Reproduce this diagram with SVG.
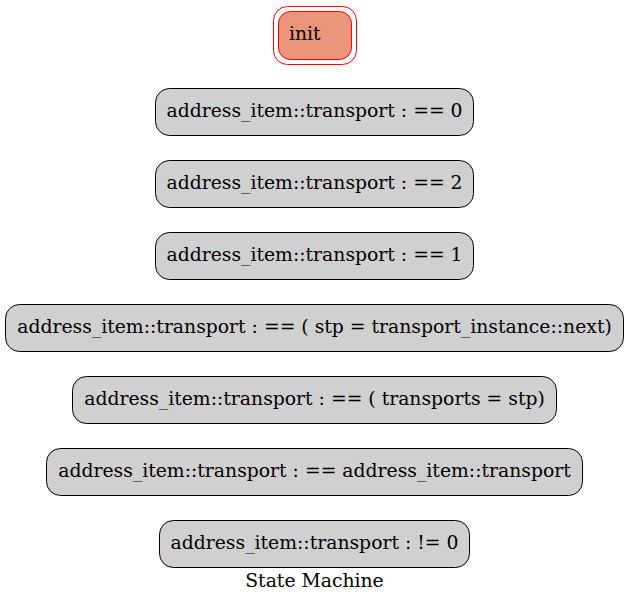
<svg xmlns="http://www.w3.org/2000/svg" width="629" height="604" viewBox="0 0 629 604">
<style>
text{font-family:'DejaVu Serif',serif;font-size:18.8px;fill:#000;text-anchor:middle}
.s{fill:#d0d0d0;stroke:#000;stroke-width:1}
.i{fill:#eb967a;stroke:#ff0000;stroke-width:1}
.o{fill:none;stroke:#ff0000;stroke-width:1}
</style>
<rect width="629" height="604" fill="#fff"/>
<g id="init">
<rect class="o" x="273.5" y="6.5" width="83" height="58" rx="14"/>
<rect class="i" x="278.5" y="11.5" width="73" height="48" rx="12"/>
<text x="289" y="40" style="text-anchor:start">init</text>
</g>
<g id="s0"><rect class="s" x="155.5" y="88.5" width="318" height="47" rx="14"/><text x="314.5" y="117">address_item::transport : == 0</text></g>
<g id="s2"><rect class="s" x="155.5" y="160.5" width="318" height="47" rx="14"/><text x="314.5" y="189">address_item::transport : == 2</text></g>
<g id="s1"><rect class="s" x="155.5" y="232.5" width="318" height="47" rx="14"/><text x="314.5" y="261">address_item::transport : == 1</text></g>
<g id="s3"><rect class="s" x="5.5" y="304.5" width="618" height="47" rx="14"/><text x="314.5" y="333">address_item::transport : == ( stp = transport_instance::next)</text></g>
<g id="s4"><rect class="s" x="72.5" y="376.5" width="484" height="47" rx="14"/><text x="314.5" y="405">address_item::transport : == ( transports = stp)</text></g>
<g id="s5"><rect class="s" x="46.5" y="448.5" width="536" height="47" rx="14"/><text x="314.5" y="477">address_item::transport : == address_item::transport</text></g>
<g id="s6"><rect class="s" x="159.5" y="520.5" width="310" height="47" rx="14"/><text x="314.5" y="549">address_item::transport : != 0</text></g>
<g id="connectors"></g>
<text x="314.5" y="587">State Machine</text>
</svg>
